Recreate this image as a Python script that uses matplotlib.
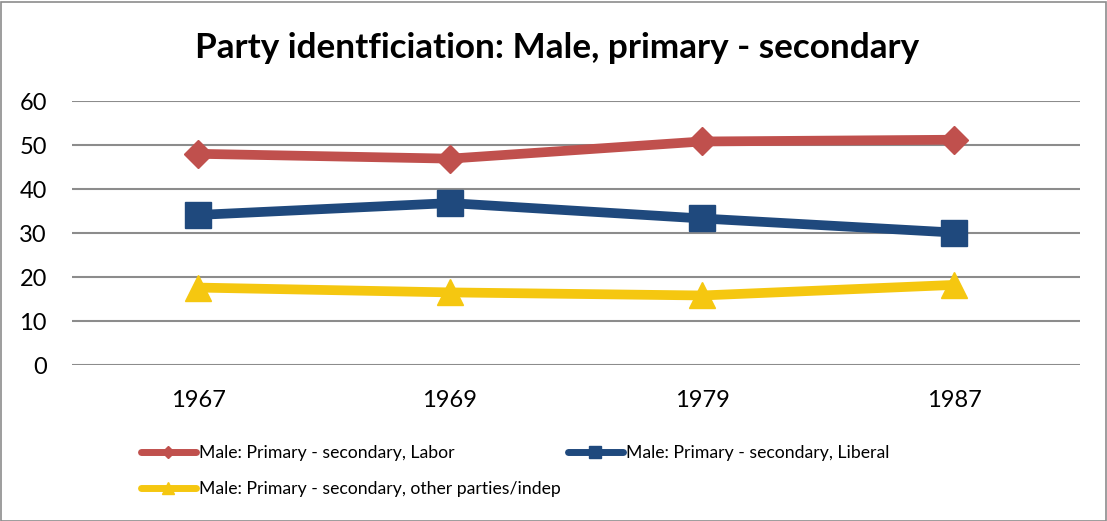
import matplotlib
matplotlib.use("Agg")
import matplotlib.pyplot as plt
from matplotlib.patches import Rectangle
from matplotlib.lines import Line2D

plt.rcParams['font.family'] = ['Lato', 'DejaVu Sans']

years = ["1967", "1969", "1979", "1987"]
labor = [48.0, 46.9, 50.8, 51.2]
liberal = [34.1, 36.8, 33.3, 30.1]
other = [17.6, 16.5, 15.8, 18.2]
yticks = [0, 10, 20, 30, 40, 50, 60]

series_names = ["Male: Primary - secondary, Labor",
                "Male: Primary - secondary, Liberal",
                "Male: Primary - secondary, other parties/indep"]
colors = ["#C0504D", "#1F497D", "#F5C710"]
markers = ["D", "s", "^"]
msizes = [14, 19, 19]

fig = plt.figure(figsize=(11.07, 5.21), dpi=100)
ax = fig.add_axes([72/1107, 1-365/521, (1080-72)/1107, (365-101)/521])

x = list(range(len(years)))
for vals, name, c, m, ms in zip([labor, liberal, other], series_names, colors, markers, msizes):
    ax.plot(x, vals, color=c, lw=7, marker=m, markersize=ms, label=name,
            solid_capstyle='round', zorder=3)

ax.set_xlim(-0.5, len(years)-0.5)
ax.set_ylim(0, 60)
ax.set_yticks(yticks)
ax.set_xticks(x)
ax.set_xticklabels(years)
ax.grid(axis='y', color='#8C8C8C', lw=1.5)
ax.set_axisbelow(True)
for s in ax.spines.values():
    s.set_visible(False)
ax.tick_params(axis='both', length=0, labelsize=17, colors='black')
ax.tick_params(axis='y', pad=18)
ax.tick_params(axis='x', pad=18)

fig.text(557/1107, 1-48/521, "Party identficiation: Male, primary - secondary",
         ha='center', va='center', fontsize=25.3, fontweight='bold')

# legend
leg_handles = [Line2D([], [], color=c, lw=5, marker=m, markersize=ms*0.45, solid_capstyle='round')
               for c, m, ms in zip(colors, markers, msizes)]
order = [0, 2, 1]
fig.legend([leg_handles[i] for i in order], [series_names[i] for i in order],
           ncol=2, loc='upper left', bbox_to_anchor=(141/1107, 1-445/521),
           frameon=False, fontsize=12.7, handlelength=3.1, handletextpad=0.2,
           columnspacing=0.4, labelspacing=1.16, borderaxespad=0, borderpad=0)

fig.add_artist(Rectangle((0.5/1107, 0.5/521), 1-2/1107, 1-2/521, transform=fig.transFigure,
                         fill=False, edgecolor='#8C8C8C', lw=1.2))

fig.savefig("out.png", dpi=100)
